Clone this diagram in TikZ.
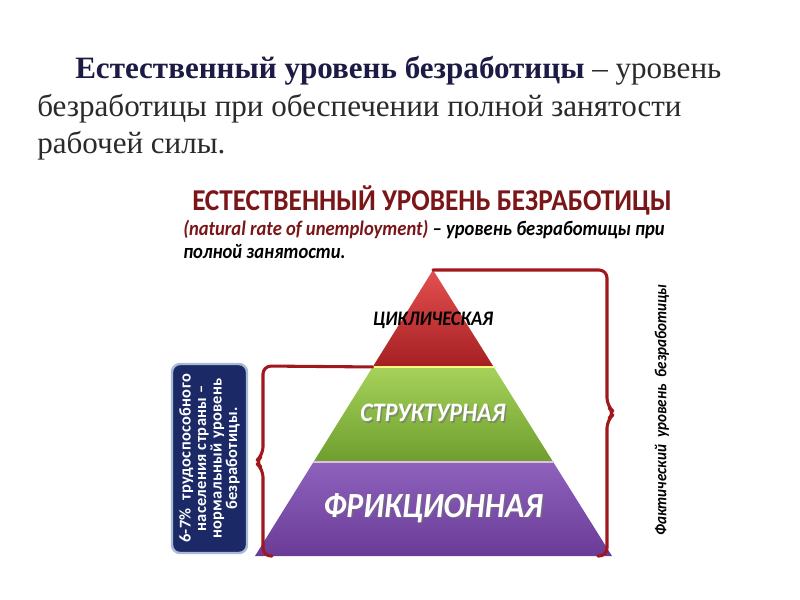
\documentclass[tikz,border=0pt]{standalone}
\usepackage{fontspec}
\setmainfont{Liberation Serif}
\newfontfamily\calib{Carlito}[FakeStretch=0.9]
\newfontfamily\calibw{Carlito}[LetterSpace=2]
\usetikzlibrary{calc,positioning}
\definecolor{urnavy}{HTML}{1B1B45}
\definecolor{urtext}{HTML}{2A2A2A}
\definecolor{urred}{HTML}{7A1518}
\definecolor{urbrace}{HTML}{A0181E}
\definecolor{cycTop}{HTML}{E45050}
\definecolor{cycBot}{HTML}{A51F22}
\definecolor{strTop}{HTML}{A6D25A}
\definecolor{strBot}{HTML}{6E9E2E}
\definecolor{friTop}{HTML}{8E62BC}
\definecolor{friBot}{HTML}{6A3C98}
\definecolor{boxFill}{HTML}{1B2A66}
\definecolor{boxRim}{HTML}{A9B9D6}
\tikzset{
  every picture/.append style={line cap=round,line join=round},
  ur lead/.style={anchor=base west,inner sep=0pt,text=urtext,font=\fontsize{23.3}{28}\selectfont},
  ur head/.style={anchor=base,inner sep=0pt,text=urred,font=\calib\bfseries\fontsize{22.7}{26}\selectfont},
  ur sub/.style={anchor=base west,inner sep=0pt,text=black,font=\calib\bfseries\itshape\fontsize{15.5}{18}\selectfont},
  ur tier/.style={inner sep=0pt,font=\calib\bfseries\itshape\fontsize{#1}{#1}\selectfont},
  ur shadow/.style={text=black!55,opacity=0.6},
  ur brace/.style={draw=urbrace,line width=2.3pt,rounded corners=6pt},
  ur box/.style={draw=boxRim,line width=1.8pt,rounded corners=6pt,
    fill=boxFill,text=white,align=center,
    font=\calibw\bfseries\fontsize{12.3}{11.6}\selectfont}
}
\begin{document}
\begin{tikzpicture}[x=0.75pt,y=-0.75pt]
\fill[white] (0,0) rectangle (800,600);
\useasboundingbox (0,0) rectangle (800,600);

% lead text
\node[ur lead] (lead1) at (75,78) {\textcolor{urnavy}{\textbf{Естественный уровень безработицы}} – уровень};
\node[ur lead] (lead2) at (37,116) {безработицы при обеспечении полной занятости};
\node[ur lead] (lead3) at (37,153) {рабочей силы.};

% heading of the diagram
\node[ur head] (head) at (432,210) {ЕСТЕСТВЕННЫЙ УРОВЕНЬ БЕЗРАБОТИЦЫ};
\node[ur sub] (sub1) at (183,235) {\textcolor{urred}{(natural rate of unemployment)} – уровень безработицы при};
\node[ur sub] (sub2) at (183,258) {полной занятости.};

% pyramid
\coordinate (apex) at (433,270);
\coordinate (bl) at (255,556);
\coordinate (br) at (612,556);
\coordinate (l1) at ($(apex)!0.339!(bl)$);
\coordinate (r1) at ($(apex)!0.339!(br)$);
\coordinate (l2) at ($(apex)!0.671!(bl)$);
\coordinate (r2) at ($(apex)!0.671!(br)$);
\shade[top color=cycTop,bottom color=cycBot] (apex) -- (r1) -- (l1) -- cycle;
\shade[top color=strTop,bottom color=strBot] (l1) -- (r1) -- (r2) -- (l2) -- cycle;
\shade[top color=friTop,bottom color=friBot] (l2) -- (r2) -- (br) -- (bl) -- cycle;
\draw[yellow!50!white,line width=1.2pt] (l1) -- (r1);
\draw[violet!25!white,line width=1.2pt] (l2) -- (r2);

\node[ur tier=15.5,text=black] (cyc) at (433,320) {ЦИКЛИЧЕСКАЯ};
\node[ur tier=20,ur shadow] (str shadow) at (434.5,414.5) {СТРУКТУРНАЯ};
\node[ur tier=20,text=white] (str) at (433,413) {СТРУКТУРНАЯ};
\node[ur tier=26.5,ur shadow] (fri shadow) at (434.5,509.5) {ФРИКЦИОННАЯ};
\node[ur tier=26.5,text=white] (fri) at (433,508) {ФРИКЦИОННАЯ};

% braces
\draw[ur brace] (apex) -- (607,270) -- (607,406) -- (615,413) -- (607,420) -- (607,556) -- (598,556);
\draw[ur brace] (l1) -- (263,366) -- (263,455) -- (255,462) -- (263,469) -- (263,556) -- (272,556);

% side notes
\node[ur box,rotate=90,minimum width=141.75pt,minimum height=56.25pt] (note) at (209.5,458.5)
  {6-7\%\ \ трудоспособного\\населения страны –\\нормальный уровень\\безработицы.};
\node[rotate=90,inner sep=0pt,font=\calib\bfseries\itshape\fontsize{12.6}{14}\selectfont] (fact) at (662,410)
  {Фактический\ \ уровень\ \ безработицы};
\end{tikzpicture}
\end{document}
